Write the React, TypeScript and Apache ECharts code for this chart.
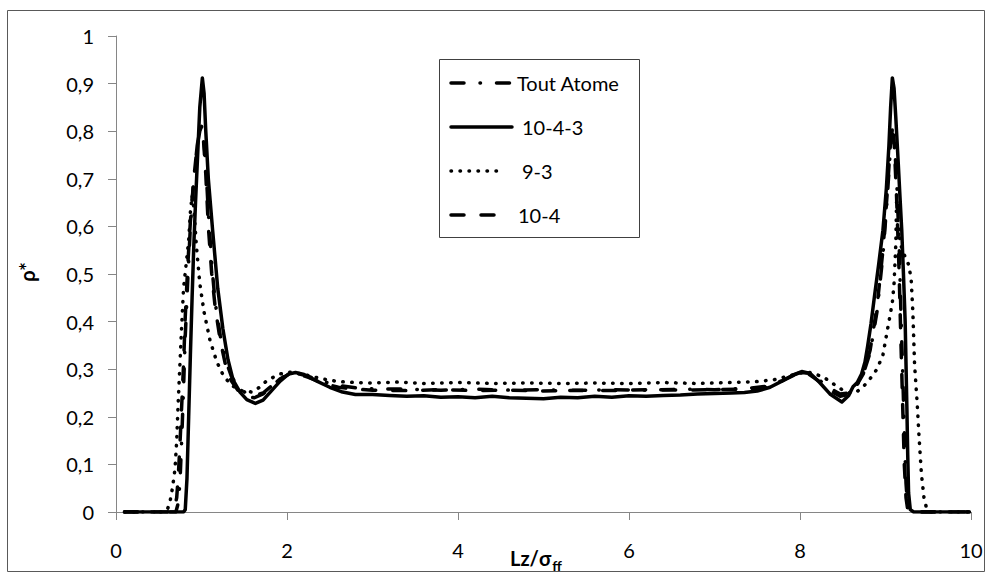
import React, { useEffect, useRef } from "react";
import * as echarts from "echarts";

// ---------- data ----------
const seriesNames = ["Tout Atome", "10-4-3", "9-3", "10-4"];

const toutAtomeX = [0.1, 0.6, 0.7, 0.73, 0.75, 0.77, 0.79, 0.81, 0.84, 0.87, 0.91, 0.95, 0.98, 1.0, 1.02, 1.05, 1.08, 1.12, 1.16, 1.22, 1.28, 1.35, 1.43, 1.52, 1.62, 1.72, 1.82, 1.92, 2.02, 2.12, 2.25, 2.4, 2.6, 2.8, 3.0, 3.4, 3.8, 4.2, 4.6, 5.0, 5.4, 5.8, 6.2, 6.6, 7.0, 7.4, 7.6, 7.75, 7.9, 8.0, 8.1, 8.22, 8.35, 8.47, 8.58, 8.66, 8.74, 8.82, 8.9, 8.97, 9.02, 9.06, 9.08, 9.1, 9.13, 9.16, 9.18, 9.2, 9.22, 9.24, 9.26, 9.3, 9.6, 9.98];
const toutAtomeY = [0, 0, 0, 0.02, 0.07, 0.16, 0.26, 0.37, 0.49, 0.6, 0.7, 0.77, 0.805, 0.81, 0.8, 0.73, 0.63, 0.52, 0.44, 0.37, 0.32, 0.285, 0.262, 0.25, 0.245, 0.25, 0.265, 0.28, 0.29, 0.291, 0.285, 0.275, 0.266, 0.261, 0.259, 0.258, 0.256, 0.258, 0.256, 0.257, 0.255, 0.257, 0.256, 0.258, 0.257, 0.26, 0.264, 0.273, 0.286, 0.293, 0.292, 0.278, 0.26, 0.248, 0.25, 0.265, 0.29, 0.335, 0.42, 0.54, 0.66, 0.77, 0.805, 0.79, 0.7, 0.56, 0.42, 0.3, 0.17, 0.06, 0.01, 0, 0, 0];

const s1043X = [0.1, 0.5, 0.79, 0.81, 0.83, 0.85, 0.87, 0.89, 0.91, 0.93, 0.96, 0.98, 1.01, 1.03, 1.05, 1.08, 1.13, 1.19, 1.25, 1.31, 1.37, 1.45, 1.53, 1.63, 1.72, 1.82, 1.92, 2.02, 2.1, 2.2, 2.35, 2.5, 2.65, 2.8, 3.0, 3.2, 3.4, 3.6, 3.8, 4.0, 4.2, 4.4, 4.6, 4.8, 5.0, 5.2, 5.4, 5.6, 5.8, 6.0, 6.2, 6.4, 6.6, 6.8, 7.0, 7.2, 7.35, 7.5, 7.65, 7.8, 7.92, 8.02, 8.12, 8.23, 8.35, 8.49, 8.57, 8.62, 8.67, 8.72, 8.76, 8.79, 8.83, 8.87, 8.92, 8.97, 9.01, 9.04, 9.06, 9.08, 9.1, 9.12, 9.15, 9.17, 9.19, 9.21, 9.23, 9.24, 9.25, 9.26, 9.27, 9.29, 9.33, 9.6, 9.98];
const s1043Y = [0, 0, 0, 0.005, 0.07, 0.2, 0.33, 0.45, 0.56, 0.65, 0.77, 0.85, 0.912, 0.88, 0.8, 0.7, 0.592, 0.47, 0.385, 0.32, 0.277, 0.252, 0.236, 0.228, 0.235, 0.255, 0.275, 0.29, 0.293, 0.289, 0.275, 0.262, 0.252, 0.247, 0.247, 0.245, 0.243, 0.244, 0.241, 0.242, 0.24, 0.243, 0.24, 0.239, 0.238, 0.241, 0.24, 0.243, 0.241, 0.244, 0.243, 0.245, 0.246, 0.248, 0.249, 0.25, 0.251, 0.254, 0.262, 0.276, 0.288, 0.295, 0.291, 0.272, 0.248, 0.231, 0.245, 0.263, 0.272, 0.29, 0.315, 0.347, 0.395, 0.452, 0.52, 0.592, 0.68, 0.77, 0.85, 0.912, 0.89, 0.83, 0.73, 0.66, 0.592, 0.5, 0.4, 0.31, 0.22, 0.12, 0.04, 0.005, 0, 0, 0];

const s93X = [0.1, 0.55, 0.6, 0.63, 0.66, 0.69, 0.71, 0.725, 0.745, 0.765, 0.79, 0.82, 0.85, 0.87, 0.89, 0.91, 0.94, 0.98, 1.03, 1.1, 1.18, 1.26, 1.36, 1.47, 1.59, 1.68, 1.77, 1.92, 2.05, 2.2, 2.4, 2.6, 2.8, 3.0, 3.3, 3.6, 4.0, 4.4, 4.8, 5.2, 5.6, 6.0, 6.4, 6.8, 7.2, 7.5, 7.7, 7.85, 8.0, 8.12, 8.27, 8.4, 8.5, 8.58, 8.66, 8.74, 8.82, 8.9, 8.97, 9.0, 9.04, 9.08, 9.1, 9.12, 9.13, 9.15, 9.18, 9.22, 9.27, 9.3, 9.32, 9.34, 9.37, 9.39, 9.42, 9.45, 9.48, 9.52, 9.98];
const s93Y = [0, 0, 0.005, 0.02, 0.05, 0.09, 0.15, 0.22, 0.3, 0.38, 0.47, 0.52, 0.57, 0.63, 0.665, 0.64, 0.56, 0.48, 0.42, 0.36, 0.315, 0.285, 0.265, 0.255, 0.252, 0.262, 0.277, 0.29, 0.294, 0.289, 0.28, 0.274, 0.272, 0.271, 0.273, 0.27, 0.272, 0.27, 0.271, 0.27, 0.271, 0.27, 0.272, 0.27, 0.272, 0.274, 0.278, 0.285, 0.292, 0.293, 0.284, 0.268, 0.256, 0.25, 0.252, 0.263, 0.28, 0.3, 0.33, 0.36, 0.4, 0.44, 0.48, 0.56, 0.66, 0.6, 0.56, 0.54, 0.52, 0.49, 0.42, 0.31, 0.23, 0.165, 0.08, 0.03, 0.008, 0, 0];

const s104X = [0.1, 0.6, 0.68, 0.71, 0.73, 0.75, 0.77, 0.79, 0.81, 0.84, 0.87, 0.91, 0.95, 0.98, 1.0, 1.02, 1.05, 1.08, 1.12, 1.16, 1.22, 1.28, 1.35, 1.43, 1.52, 1.62, 1.72, 1.82, 1.92, 2.02, 2.12, 2.25, 2.4, 2.6, 2.8, 3.0, 3.4, 3.8, 4.2, 4.6, 5.0, 5.4, 5.8, 6.2, 6.6, 7.0, 7.4, 7.6, 7.75, 7.9, 8.0, 8.1, 8.22, 8.35, 8.47, 8.58, 8.66, 8.74, 8.82, 8.9, 8.97, 9.02, 9.06, 9.08, 9.1, 9.13, 9.16, 9.18, 9.2, 9.22, 9.24, 9.26, 9.3, 9.6, 9.98];
const s104Y = [0, 0, 0.005, 0.03, 0.08, 0.15, 0.23, 0.31, 0.41, 0.52, 0.61, 0.7, 0.77, 0.8, 0.81, 0.79, 0.71, 0.6, 0.5, 0.43, 0.36, 0.31, 0.275, 0.255, 0.243, 0.24, 0.248, 0.264, 0.28, 0.289, 0.29, 0.283, 0.272, 0.262, 0.258, 0.256, 0.255, 0.257, 0.255, 0.256, 0.254, 0.256, 0.255, 0.257, 0.256, 0.257, 0.258, 0.262, 0.272, 0.285, 0.292, 0.29, 0.275, 0.255, 0.243, 0.248, 0.265, 0.29, 0.34, 0.43, 0.55, 0.67, 0.78, 0.81, 0.78, 0.66, 0.5, 0.36, 0.23, 0.1, 0.03, 0.005, 0, 0, 0];

const xTicks = [0, 2, 4, 6, 8, 10];

const FONT = "Lato";

// line dash patterns per series (same order as seriesNames)
const DASHES: (number[] | null)[] = [[13, 16, 0.5, 16], null, [0.5, 8.5], [13, 17]];

function pairs(xs: number[], ys: number[]) {
  return xs.map((x, i) => [x, ys[i]]);
}

export default function App() {
  const ref = useRef<HTMLDivElement>(null);

  useEffect(() => {
    if (!ref.current) return;
    const chart = echarts.init(ref.current, null, { renderer: "svg" });
    const base = { color: "#000", width: 3.5, cap: "round" as const, join: "round" as const };
    const mk = (name: string, data: number[][], type: any) => ({
      name,
      type: "line",
      data,
      symbol: "none",
      showSymbol: false,
      smooth: false,
      lineStyle: { ...base, type },
      itemStyle: { color: "#000" },
      z: 3,
    });

    // manual legend (box + line samples + labels)
    const legendRows = [83, 127, 171, 215];
    const legendTextX = [517, 522, 522, 518];
    const legendLineEnd = [512, 512, 504, 510];
    const legendEls: any[] = [
      {
        type: "rect",
        shape: { x: 439.5, y: 59.5, width: 200, height: 178 },
        style: { fill: "#fff", stroke: "#404040", lineWidth: 1 },
        z: 10,
      },
    ];
    seriesNames.forEach((name, i) => {
      const d = DASHES[i];
      legendEls.push({
        type: "line",
        shape: { x1: 451, y1: legendRows[i], x2: legendLineEnd[i], y2: legendRows[i] },
        style: {
          stroke: "#000",
          lineWidth: 3.5,
          lineCap: "round",
          lineDash: d ? d : null,
        },
        z: 11,
      });
      legendEls.push({
        type: "text",
        x: legendTextX[i],
        y: legendRows[i],
        style: {
          text: name,
          font: `20px ${FONT}`,
          fill: "#000",
          align: "left",
          verticalAlign: "middle",
        },
        z: 11,
      });
    });

    chart.setOption({
      animation: false,
      backgroundColor: "#fff",
      grid: { left: 116, right: 16, top: 36, bottom: 62, containLabel: false },
      xAxis: {
        type: "value",
        min: 0,
        max: 10,
        interval: 2,
        axisLine: { show: true, onZero: false, lineStyle: { color: "#868686", width: 1 } },
        axisTick: { show: true, inside: false, length: 8, lineStyle: { color: "#868686" } },
        splitLine: { show: false },
        axisLabel: {
          fontFamily: FONT,
          fontSize: 20,
          color: "#000",
          margin: 28,
          formatter: (v: number) => (xTicks.includes(v) ? String(v) : ""),
        },
      },
      yAxis: {
        type: "value",
        min: 0,
        max: 1,
        interval: 0.1,
        axisLine: { show: true, lineStyle: { color: "#868686", width: 1 } },
        axisTick: { show: true, inside: false, length: 8, lineStyle: { color: "#868686" } },
        splitLine: { show: false },
        axisLabel: {
          fontFamily: FONT,
          fontSize: 20,
          color: "#000",
          margin: 22,
          formatter: (v: number) => {
            const r = Math.round(v * 10) / 10;
            return String(r).replace(".", ",");
          },
        },
      },
      series: [
        mk(seriesNames[0], pairs(toutAtomeX, toutAtomeY), DASHES[0]),
        mk(seriesNames[1], pairs(s1043X, s1043Y), "solid"),
        mk(seriesNames[2], pairs(s93X, s93Y), DASHES[2]),
        mk(seriesNames[3], pairs(s104X, s104Y), DASHES[3]),
      ],
      graphic: [
        {
          type: "rect",
          shape: { x: 7.5, y: 10.5, width: 977, height: 561 },
          style: { fill: "none", stroke: "#595959", lineWidth: 1 },
          silent: true,
          z: -1,
        },
        {
          type: "text",
          x: 27,
          y: 272,
          rotation: Math.PI / 2,
          style: {
            text: "ρ*",
            font: `bold 20px ${FONT}`,
            fill: "#000",
            align: "center",
            verticalAlign: "middle",
          },
        },
        {
          type: "text",
          x: 510,
          y: 558,
          style: {
            text: "{a|Lz/σ}{b|ff}",
            fill: "#000",
            align: "left",
            verticalAlign: "middle",
            rich: {
              a: { fontFamily: FONT, fontWeight: "bold", fontSize: 20, lineHeight: 28, verticalAlign: "middle" },
              b: { fontFamily: FONT, fontWeight: "bold", fontSize: 14, lineHeight: 28, verticalAlign: "bottom", padding: [0, 0, 0, 1] },
            },
          },
        },
        ...legendEls,
      ],
    });
    return () => chart.dispose();
  }, []);

  return (
    <div
      ref={ref}
      style={{ position: "fixed", left: 0, top: 0, width: 987, height: 574, background: "#fff" }}
    />
  );
}
